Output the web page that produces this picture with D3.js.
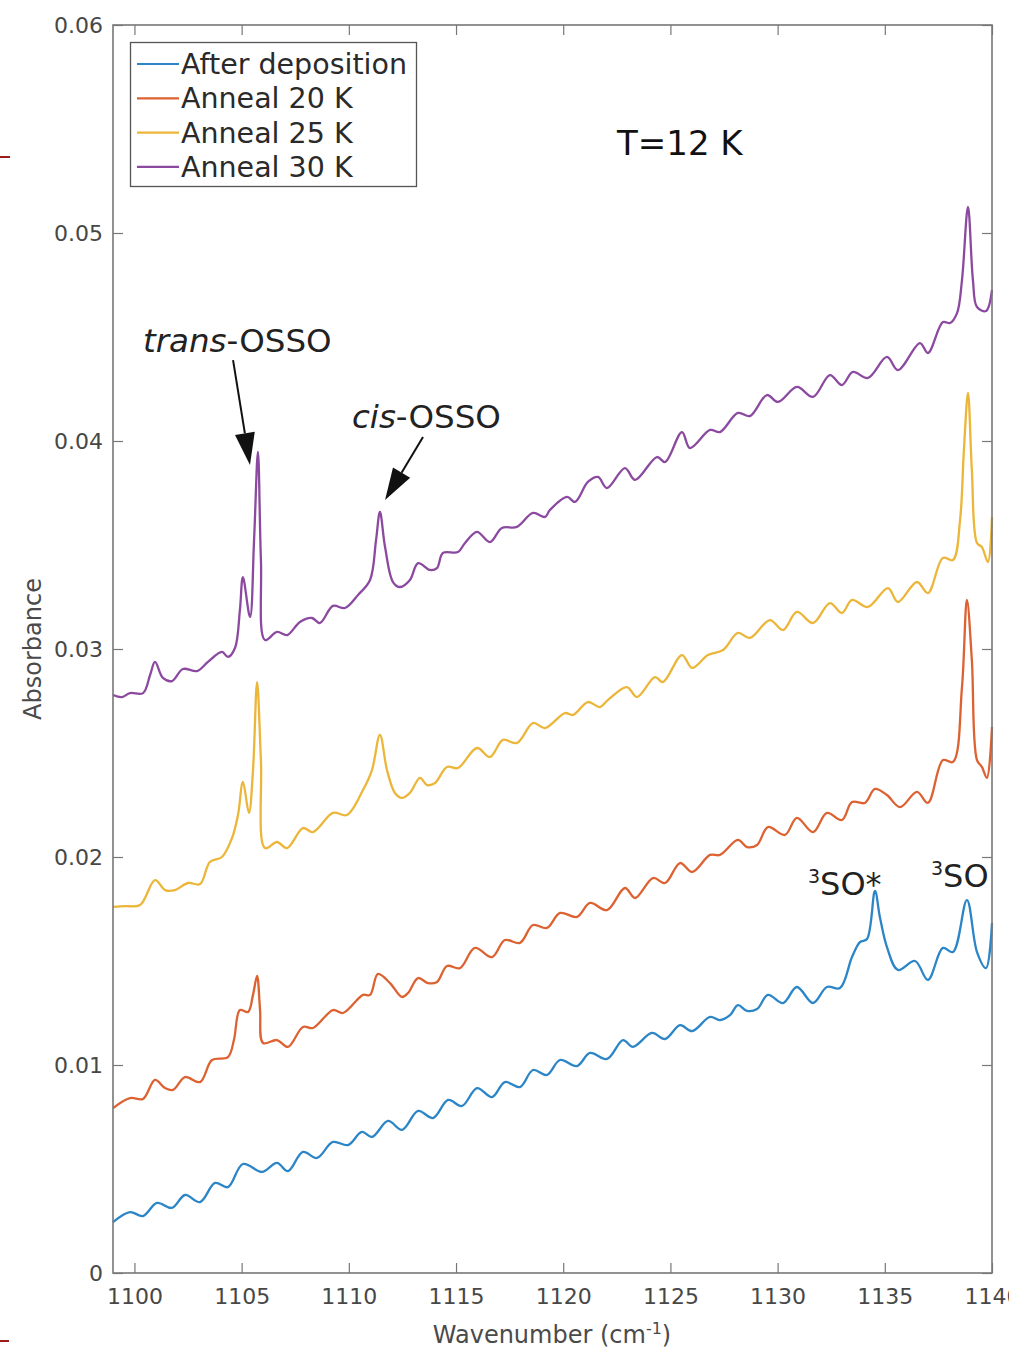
<!DOCTYPE html>
<html><head><meta charset="utf-8">
<script src="https://cdn.jsdelivr.net/npm/d3@7"></script>
<style>body{margin:0;background:#fff;} svg{display:block;font-family:"DejaVu Sans",sans-serif;}</style>
</head><body>
<svg id="chart" width="1009" height="1348"></svg>
<script>
// ---- data: [wavenumber (cm-1), absorbance] ----
const afterDeposition = [
[1099.00,0.00245],[1099.79,0.00293],[1100.40,0.00274],[1101.05,0.00337],[1101.75,0.00313],[1102.36,0.00375],
[1103.06,0.00341],[1103.76,0.00433],[1104.36,0.00413],[1105.06,0.00524],[1105.95,0.00486],[1106.65,0.00529],
[1107.16,0.00490],[1107.86,0.00582],[1108.51,0.00553],[1109.26,0.00630],[1109.96,0.00615],[1110.61,0.00678],
[1111.08,0.00654],[1111.83,0.00731],[1112.48,0.00688],[1113.23,0.00779],[1113.93,0.00745],[1114.63,0.00832],
[1115.28,0.00803],[1115.98,0.00889],[1116.68,0.00846],[1117.28,0.00918],[1117.98,0.00894],[1118.59,0.00976],
[1119.24,0.00952],[1119.85,0.01024],[1120.64,0.00995],[1121.25,0.01058],[1122.04,0.01029],[1122.79,0.01120],
[1123.25,0.01087],[1124.14,0.01154],[1124.75,0.01125],[1125.45,0.01192],[1126.01,0.01163],[1126.85,0.01231],
[1127.31,0.01216],[1127.78,0.01240],[1128.15,0.01288],[1128.57,0.01260],[1129.04,0.01269],[1129.55,0.01337],
[1130.25,0.01298],[1130.90,0.01375],[1131.65,0.01298],[1132.30,0.01375],[1132.91,0.01370],[1133.47,0.01519],
[1133.84,0.01591],[1134.17,0.01606],[1134.54,0.01837],[1134.77,0.01712],[1135.10,0.01567],[1135.61,0.01457],
[1136.41,0.01500],[1137.01,0.01409],[1137.71,0.01563],[1138.18,0.01543],[1138.83,0.01793],[1139.30,0.01543],
[1139.72,0.01466],[1140.00,0.01683]
];
const anneal20K = [
[1099.00,0.00793],[1099.79,0.00841],[1100.40,0.00837],[1100.96,0.00928],[1101.43,0.00889],[1101.80,0.00880],
[1102.36,0.00942],[1103.06,0.00918],[1103.62,0.01024],[1104.36,0.01038],[1104.64,0.01120],[1104.92,0.01264],
[1105.30,0.01255],[1105.53,0.01337],[1105.72,0.01428],[1105.86,0.01264],[1106.00,0.01106],[1106.65,0.01120],
[1107.16,0.01087],[1107.86,0.01183],[1108.33,0.01178],[1109.26,0.01264],[1109.73,0.01250],[1110.66,0.01337],
[1110.99,0.01337],[1111.36,0.01438],[1111.92,0.01394],[1112.48,0.01327],[1112.76,0.01346],[1113.23,0.01418],
[1113.69,0.01394],[1114.11,0.01399],[1114.58,0.01476],[1115.18,0.01466],[1115.88,0.01563],[1116.68,0.01519],
[1117.28,0.01601],[1117.98,0.01587],[1118.59,0.01673],[1119.24,0.01659],[1119.85,0.01731],[1120.64,0.01712],
[1121.25,0.01779],[1122.04,0.01745],[1122.88,0.01851],[1123.35,0.01803],[1124.19,0.01899],[1124.75,0.01875],
[1125.45,0.01971],[1126.01,0.01928],[1126.85,0.02010],[1127.31,0.02010],[1128.15,0.02082],[1128.57,0.02048],
[1129.04,0.02058],[1129.55,0.02144],[1130.34,0.02106],[1130.90,0.02188],[1131.65,0.02120],[1132.30,0.02212],
[1133.00,0.02178],[1133.47,0.02264],[1134.07,0.02260],[1134.54,0.02327],[1135.10,0.02298],[1135.71,0.02240],
[1136.50,0.02313],[1137.01,0.02260],[1137.71,0.02466],[1138.18,0.02457],[1138.60,0.02817],[1138.83,0.03236],
[1139.06,0.02947],[1139.30,0.02466],[1139.53,0.02433],[1139.76,0.02380],[1140.00,0.02625]
];
const anneal25K = [
[1099.00,0.01760],[1099.56,0.01764],[1100.26,0.01769],[1100.96,0.01889],[1101.43,0.01841],[1101.89,0.01841],
[1102.50,0.01875],[1103.06,0.01870],[1103.52,0.01976],[1104.08,0.02000],[1104.55,0.02091],[1104.83,0.02202],
[1105.06,0.02361],[1105.34,0.02212],[1105.53,0.02418],[1105.72,0.02841],[1105.90,0.02466],[1106.09,0.02043],
[1106.65,0.02072],[1107.12,0.02043],[1107.86,0.02139],[1108.33,0.02120],[1109.26,0.02212],[1109.91,0.02202],
[1110.66,0.02322],[1111.08,0.02418],[1111.45,0.02587],[1111.78,0.02418],[1112.15,0.02308],[1112.48,0.02284],
[1112.85,0.02308],[1113.32,0.02380],[1113.65,0.02346],[1114.02,0.02356],[1114.58,0.02433],[1115.09,0.02428],
[1115.98,0.02524],[1116.58,0.02481],[1117.19,0.02563],[1117.84,0.02548],[1118.59,0.02644],[1119.15,0.02620],
[1120.08,0.02692],[1120.46,0.02683],[1121.15,0.02745],[1121.71,0.02721],[1122.09,0.02755],[1122.97,0.02817],
[1123.44,0.02769],[1124.28,0.02865],[1124.65,0.02841],[1125.54,0.02971],[1126.01,0.02909],[1126.75,0.02971],
[1127.45,0.02995],[1128.15,0.03077],[1128.71,0.03053],[1129.64,0.03139],[1130.25,0.03091],[1130.90,0.03178],
[1131.65,0.03125],[1132.44,0.03221],[1133.00,0.03173],[1133.47,0.03236],[1134.21,0.03202],[1135.15,0.03293],
[1135.61,0.03226],[1136.50,0.03322],[1137.01,0.03269],[1137.71,0.03438],[1138.18,0.03428],[1138.51,0.03620],
[1138.69,0.03957],[1138.88,0.04231],[1139.06,0.03861],[1139.30,0.03510],[1139.53,0.03490],[1139.81,0.03418],
[1140.00,0.03635]
];
const anneal30K = [
[1099.00,0.02779],[1099.42,0.02769],[1099.79,0.02788],[1100.40,0.02788],[1100.73,0.02875],[1100.96,0.02938],
[1101.33,0.02861],[1101.75,0.02846],[1102.26,0.02904],[1102.92,0.02894],[1103.43,0.02938],[1104.08,0.02986],
[1104.36,0.02962],[1104.69,0.03005],[1104.92,0.03188],[1105.06,0.03346],[1105.39,0.03154],[1105.58,0.03524],
[1105.76,0.03947],[1105.90,0.03428],[1106.09,0.03043],[1106.65,0.03082],[1107.12,0.03067],[1107.72,0.03130],
[1108.28,0.03149],[1108.65,0.03125],[1109.26,0.03207],[1109.82,0.03197],[1110.43,0.03260],[1110.99,0.03332],
[1111.27,0.03524],[1111.45,0.03659],[1111.69,0.03490],[1112.06,0.03322],[1112.39,0.03298],[1112.85,0.03332],
[1113.23,0.03413],[1113.79,0.03380],[1114.11,0.03389],[1114.39,0.03462],[1115.09,0.03466],[1115.42,0.03510],
[1115.98,0.03563],[1116.58,0.03514],[1117.14,0.03582],[1117.84,0.03587],[1118.59,0.03654],[1119.15,0.03635],
[1119.38,0.03668],[1120.18,0.03731],[1120.55,0.03707],[1121.15,0.03803],[1121.62,0.03827],[1122.04,0.03774],
[1122.88,0.03870],[1123.35,0.03813],[1124.37,0.03923],[1124.75,0.03899],[1125.54,0.04043],[1125.91,0.03966],
[1126.85,0.04053],[1127.31,0.04043],[1128.15,0.04135],[1128.71,0.04120],[1129.50,0.04221],[1130.02,0.04188],
[1130.90,0.04260],[1131.65,0.04212],[1132.44,0.04317],[1133.00,0.04269],[1133.51,0.04332],[1134.21,0.04303],
[1135.10,0.04404],[1135.61,0.04341],[1136.64,0.04471],[1137.01,0.04423],[1137.71,0.04572],[1138.04,0.04567],
[1138.37,0.04615],[1138.60,0.04774],[1138.88,0.05125],[1139.11,0.04774],[1139.30,0.04644],[1139.72,0.04625],
[1140.00,0.04726]
];
const seriesNames = ["After deposition", "Anneal 20 K", "Anneal 25 K", "Anneal 30 K"];
const seriesColors = ["#2b85c6", "#dc6232", "#ebb63a", "#8b4a9f"];
const xTicks = [1100, 1105, 1110, 1115, 1120, 1125, 1130, 1135, 1140];
const yTicks = [0, 0.01, 0.02, 0.03, 0.04, 0.05, 0.06];
const xDomain = [1099, 1140];
const yDomain = [0, 0.06];

// ---- layout ----
const L = 113, R = 992, T = 25, B = 1273;
const svg = d3.select("#chart");
const x = d3.scaleLinear().domain(xDomain).range([L, R]);
const y = d3.scaleLinear().domain(yDomain).range([B, T]);
const axisColor = "#777777", labelColor = "#474747";

// red slide marks
svg.append("line").attr("x1",0).attr("x2",10).attr("y1",157).attr("y2",157).attr("stroke","#9b1c1c").attr("stroke-width",2);
svg.append("line").attr("x1",0).attr("x2",9).attr("y1",1341).attr("y2",1341).attr("stroke","#9b1c1c").attr("stroke-width",2);

// curves
const line = d3.line().x(d => x(d[0])).y(d => y(d[1])).curve(d3.curveCatmullRom.alpha(0.5));
const allSeries = [afterDeposition, anneal20K, anneal25K, anneal30K];
const plot = svg.append("g");
allSeries.forEach((s, i) => {
  plot.append("path").datum(s).attr("d", line).attr("fill", "none")
    .attr("stroke", seriesColors[i]).attr("stroke-width", 2.3).attr("stroke-linejoin", "round");
});

// axes
function styleAxis(g, showLabels) {
  g.select(".domain").remove();
  g.selectAll(".tick line").attr("stroke", axisColor).attr("stroke-width", 1.2);
  g.selectAll(".tick text").attr("fill", labelColor).style("font-size", "22px").style("font-family", "DejaVu Sans");
  if (!showLabels) g.selectAll(".tick text").remove();
}
svg.append("g").attr("transform", `translate(0,${B})`)
  .call(d3.axisBottom(x).tickValues(xTicks).tickSize(-10).tickPadding(15).tickFormat(d3.format("d")))
  .call(g => styleAxis(g, true));
svg.append("g").attr("transform", `translate(0,${T})`)
  .call(d3.axisTop(x).tickValues(xTicks).tickSize(-10))
  .call(g => styleAxis(g, false));
svg.append("g").attr("transform", `translate(${L},0)`)
  .call(d3.axisLeft(y).tickValues(yTicks).tickSize(-10).tickPadding(10).tickFormat(d => d === 0 ? "0" : d.toFixed(2)))
  .call(g => styleAxis(g, true));
svg.append("g").attr("transform", `translate(${R},0)`)
  .call(d3.axisRight(y).tickValues(yTicks).tickSize(-10))
  .call(g => styleAxis(g, false));
svg.append("rect").attr("x", L).attr("y", T).attr("width", R - L).attr("height", B - T)
  .attr("fill", "none").attr("stroke", axisColor).attr("stroke-width", 1.6);

// axis titles
const xt = svg.append("text").attr("x", 552).attr("y", 1343).attr("text-anchor", "middle")
  .attr("fill", "#4a4a4a").style("font-size", "24px");
xt.append("tspan").text("Wavenumber (cm");
xt.append("tspan").attr("dy", -9).style("font-size", "16px").text("-1");
xt.append("tspan").attr("dy", 9).text(")");
svg.append("text").attr("transform", `translate(41,${(T + B) / 2}) rotate(-90)`).attr("text-anchor", "middle")
  .attr("fill", "#4a4a4a").style("font-size", "24px").text("Absorbance");

// legend
const lg = svg.append("g");
lg.append("rect").attr("x", 130.5).attr("y", 42.5).attr("width", 286).attr("height", 144)
  .attr("fill", "#fff").attr("stroke", "#555").attr("stroke-width", 1.3);
seriesNames.forEach((n, i) => {
  const yy = 64 + i * 34.3;
  lg.append("line").attr("x1", 137).attr("x2", 179).attr("y1", yy).attr("y2", yy)
    .attr("stroke", seriesColors[i]).attr("stroke-width", 2.2);
  lg.append("text").attr("x", 181).attr("y", yy + 10).attr("fill", "#2a2a2a")
    .style("font-size", "28.5px").text(n);
});

// annotations
svg.append("text").attr("x", 617).attr("y", 155).attr("fill", "#111").style("font-size", "34px").text("T=12 K");

const tr = svg.append("text").attr("x", 143).attr("y", 352).attr("fill", "#222").style("font-size", "32.5px");
tr.append("tspan").style("font-style", "italic").text("trans");
tr.append("tspan").text("-OSSO");
const ci = svg.append("text").attr("x", 352).attr("y", 428).attr("fill", "#222").style("font-size", "32.5px");
ci.append("tspan").style("font-style", "italic").text("cis");
ci.append("tspan").text("-OSSO");

function arrow(x0, y0, x1, y1) {
  const px0 = x(x0), py0 = y(y0), px1 = x(x1), py1 = y(y1);
  const dx = px1 - px0, dy = py1 - py0, len = Math.hypot(dx, dy);
  const ux = dx / len, uy = dy / len, hl = 32, hw = 10;
  const bx = px1 - ux * hl, by = py1 - uy * hl;
  svg.append("line").attr("x1", px0).attr("y1", py0).attr("x2", bx).attr("y2", by)
    .attr("stroke", "#111").attr("stroke-width", 2);
  svg.append("path").attr("d", `M${px1},${py1}L${bx - uy * hw},${by + ux * hw}L${bx + uy * hw},${by - ux * hw}Z`)
    .attr("fill", "#111");
}
arrow(1104.60, 0.04389, 1105.39, 0.03885);
arrow(1113.46, 0.04019, 1111.69, 0.03716);

const so1 = svg.append("text").attr("x", 808).attr("y", 895).attr("fill", "#222").style("font-size", "32px");
so1.append("tspan").attr("dy", -12).style("font-size", "19px").text("3");
so1.append("tspan").attr("dy", 12).text("SO*");
const so2 = svg.append("text").attr("x", 931).attr("y", 887).attr("fill", "#222").style("font-size", "32px");
so2.append("tspan").attr("dy", -12).style("font-size", "19px").text("3");
so2.append("tspan").attr("dy", 12).text("SO");
</script>
</body></html>
